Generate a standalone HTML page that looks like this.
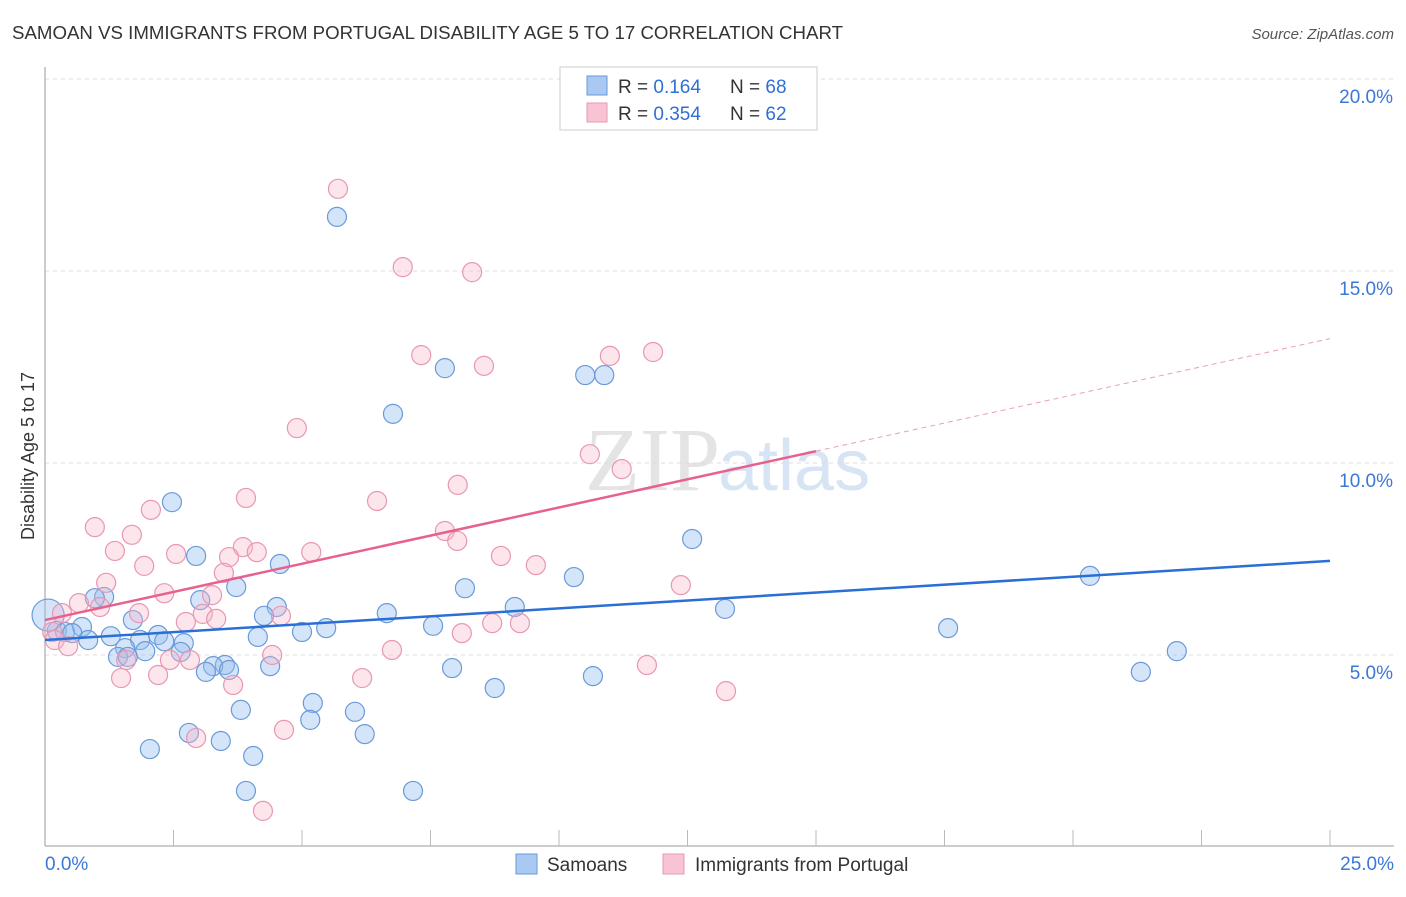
<!DOCTYPE html>
<html><head><meta charset="utf-8"><style>
body{margin:0;background:#fff;font-family:"Liberation Sans",sans-serif}
</style></head><body>
<svg id="chart" width="1406" height="892" xmlns="http://www.w3.org/2000/svg" font-family="Liberation Sans, sans-serif">
<text x="12" y="39" font-size="18" fill="#333" textLength="831" lengthAdjust="spacingAndGlyphs">SAMOAN VS IMMIGRANTS FROM PORTUGAL DISABILITY AGE 5 TO 17 CORRELATION CHART</text>
<text x="1394" y="39" font-size="15" fill="#555" font-style="italic" text-anchor="end">Source: ZipAtlas.com</text>
<text x="720" y="490" font-size="90" fill="#e4e4e4" text-anchor="end" font-family="Liberation Serif, serif">ZIP</text>
<text x="718" y="490" font-size="72" fill="#d6e4f4">atlas</text>
<text x="34" y="456" font-size="18" fill="#333" text-anchor="middle" transform="rotate(-90 34 456)">Disability Age 5 to 17</text>
<g id="grid"></g><g id="axes"></g><g id="pts"></g><g id="lines"></g>
<g>
<rect x="560" y="67" width="257" height="63" fill="#fff" stroke="#ccc"/>
<rect x="587" y="76" width="20" height="19" fill="#a9c8f2" stroke="#6a9ad8"/>
<rect x="587" y="103" width="20" height="19" fill="#f8c4d4" stroke="#e897b2"/>
<text x="618" y="93" font-size="19" fill="#333">R = <tspan fill="#2f6fd6"> 0.164</tspan><tspan x="730">N = </tspan><tspan fill="#2f6fd6">68</tspan></text>
<text x="618" y="120" font-size="19" fill="#333">R = <tspan fill="#2f6fd6">0.354</tspan><tspan x="730">N = </tspan><tspan fill="#2f6fd6">62</tspan></text>
</g>
<g>
<rect x="516" y="854" width="21" height="20" fill="#a9c8f2" stroke="#6a9ad8"/>
<text x="547" y="871" font-size="19" fill="#333">Samoans</text>
<rect x="663" y="854" width="21" height="20" fill="#f8c4d4" stroke="#e897b2"/>
<text x="695" y="871" font-size="19" fill="#333">Immigrants from Portugal</text>
</g>
</svg>
<script>
const blueX=[5.68,7.78,10.51,10.88,6.77,2.47,12.59,2.94,4.57,10.29,20.33,3.72,8.17,1.15,0.97,3.02,4.51,9.14,13.23,6.65,4.26,1.71,0.72,7.55,5.47,17.57,5.00,0.23,0.39,0.53,2.20,1.28,4.14,1.85,0.84,2.70,2.32,1.56,1.95,2.64,22.02,1.42,1.61,3.50,3.27,3.58,3.13,4.38,7.92,21.32,10.66,8.75,5.21,3.81,6.03,5.16,2.80,6.22,3.42,2.04,4.05,3.91,7.16];
const blueY=[16.41,12.47,12.29,12.29,11.28,8.98,8.02,7.58,7.37,7.03,7.06,6.77,6.74,6.51,6.48,6.43,6.25,6.25,6.20,6.09,6.02,5.91,5.73,5.76,5.70,5.70,5.60,5.63,5.60,5.57,5.52,5.49,5.47,5.39,5.39,5.31,5.36,5.18,5.10,5.08,5.10,4.95,4.95,4.74,4.71,4.61,4.56,4.71,4.66,4.56,4.45,4.14,3.75,3.57,3.52,3.31,2.97,2.94,2.76,2.55,2.37,1.46,1.46];
const pinkX=[5.70,6.96,8.31,7.32,8.54,10.99,11.83,4.90,10.60,11.22,8.03,3.91,6.46,2.06,0.97,7.78,1.69,8.02,3.85,1.36,5.18,4.12,2.55,3.58,8.87,1.93,9.55,3.48,1.19,12.37,2.32,3.25,0.66,1.07,1.83,3.07,0.33,4.59,3.33,2.74,8.70,9.24,0.14,0.19,8.11,0.45,6.75,4.42,1.58,2.43,2.82,11.71,2.20,1.48,6.17,3.66,13.25,4.65,2.94,4.24];
const pinkY=[17.14,15.10,14.97,12.81,12.53,12.79,12.89,10.91,10.23,9.84,9.43,9.09,9.01,8.78,8.33,8.23,8.13,7.97,7.81,7.71,7.68,7.68,7.63,7.55,7.58,7.32,7.34,7.14,6.88,6.82,6.61,6.56,6.35,6.25,6.09,6.07,6.09,6.02,5.94,5.86,5.83,5.83,5.60,5.39,5.57,5.23,5.13,5.00,4.87,4.87,4.87,4.74,4.48,4.40,4.40,4.22,4.06,3.05,2.84,0.94];
const yTicks=[5,10,15,20];
const xTickLabels=["0.0%","25.0%"];
const blueTrend=[5.39,7.45];
const pinkTrend=[5.91,13.24];
const pinkSolidEnd=15;
const NS="http://www.w3.org/2000/svg";
const sx=v=>45+v/25*1285, sy=v=>847-v*38.4;
function mk(tag,attrs,parent){const e=document.createElementNS(NS,tag);for(const k in attrs)e.setAttribute(k,attrs[k]);document.getElementById(parent).appendChild(e);return e;}
yTicks.forEach(t=>{
 const l=mk('line',{x1:45,x2:1394,y1:sy(t),y2:sy(t),stroke:'#ddd','stroke-dasharray':'4,4'},'grid');
 
 
 const tx=mk('text',{x:1393,y:sy(t)+24,'font-size':19,fill:'#3a78d6','text-anchor':'end'},'grid');
 tx.textContent=t.toFixed(1)+'%';
 
 
});
const ya=mk('line',{x1:45,x2:45,y1:67,y2:846,stroke:'#bbb','stroke-width':1.5},'axes');


const xa=mk('line',{x1:45,x2:1394,y1:846,y2:846,stroke:'#bbb','stroke-width':1.5},'axes');


for(let i=0;i<=10;i++){const tk=mk('line',{x1:sx(i*2.5),x2:sx(i*2.5),y1:830,y2:846,stroke:'#bbb'},'axes');
 
 }
const xl0=mk('text',{x:45,y:870,'font-size':19,fill:'#3a78d6'},'axes');xl0.textContent=xTickLabels[0];


const xl1=mk('text',{x:1394,y:870,'font-size':19,fill:'#3a78d6','text-anchor':'end'},'axes');xl1.textContent=xTickLabels[1];


blueX.forEach((x,i)=>{const c=mk('circle',{cx:sx(x),cy:sy(blueY[i]),r:9.5,fill:'rgba(150,190,240,0.4)',stroke:'#6a9ad8','stroke-width':1.2},'pts');
 
 });
const big=mk('circle',{cx:sx(0.06),cy:sy(6.04),r:16,fill:'rgba(150,190,240,0.4)',stroke:'#6a9ad8','stroke-width':1.2},'pts');


pinkX.forEach((x,i)=>{const c=mk('circle',{cx:sx(x),cy:sy(pinkY[i]),r:9.5,fill:'rgba(248,180,200,0.35)',stroke:'#e897b2','stroke-width':1.2},'pts');
 
 });
const bl=mk('line',{x1:sx(0),y1:sy(blueTrend[0]),x2:sx(25),y2:sy(blueTrend[1]),stroke:'#2a6fd6','stroke-width':2.5},'lines');


const pm=pinkTrend[0]+(pinkTrend[1]-pinkTrend[0])*pinkSolidEnd/25;
const pl=mk('line',{x1:sx(0),y1:sy(pinkTrend[0]),x2:sx(pinkSolidEnd),y2:sy(pm),stroke:'#e8608e','stroke-width':2.5},'lines');


const pd=mk('line',{x1:sx(pinkSolidEnd),y1:sy(pm),x2:sx(25),y2:sy(pinkTrend[1]),stroke:'#e8a0b8','stroke-width':1,'stroke-dasharray':'5,4'},'lines');


</script>
</body></html>
